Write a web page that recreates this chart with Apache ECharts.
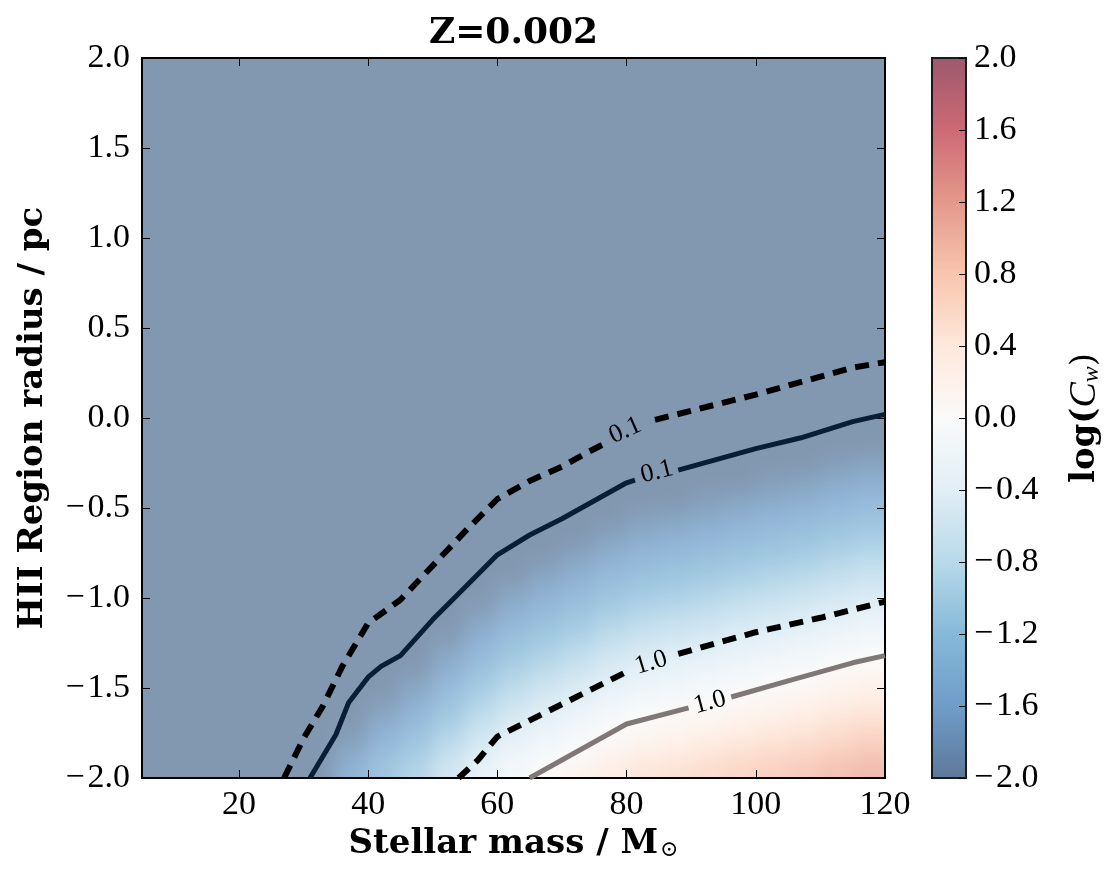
<!DOCTYPE html>
<html>
<head>
<meta charset="utf-8">
<title>Z=0.002</title>
<script src="https://cdn.jsdelivr.net/npm/echarts@6/dist/echarts.min.js"></script>
<style>
  html, body { margin: 0; padding: 0; background: #fff; }
  #heat, #main { position: absolute; left: 0; top: 0; width: 1111px; height: 883px; }
  /* smooth the cell grid a little, like gouraud shading, and crop it to the axes box */
  #heat { filter: blur(9px); clip-path: inset(58px 226px 105px 142px); }
</style>
</head>
<body>
<div id="heat"></div>
<div id="main"></div>
<script>
// ---- data ----
var massEdges = [5, 10, 15, 20, 25, 30, 35, 40, 45, 50, 55, 60, 65, 70, 75, 80, 85, 90, 95, 100, 105, 110, 115, 120];
var radiusEdges = [-2.0, -1.9, -1.8, -1.7, -1.6, -1.5, -1.4, -1.3, -1.2, -1.1, -1.0, -0.9, -0.8, -0.7, -0.6, -0.5, -0.4, -0.3, -0.2, 2.0];
// log(Cw), one row per radius band (bottom first), one value per mass band
var logCw = [
  [-2, -2, -2, -2, -2, -2, -1.59, -1.27, -1.01, -0.69, -0.39, -0.14, 0.03, 0.19, 0.36, 0.49, 0.56, 0.64, 0.73, 0.81, 0.88, 0.98, 1.06],
  [-2, -2, -2, -2, -2, -2, -1.76, -1.44, -1.18, -0.86, -0.56, -0.31, -0.14, 0.02, 0.19, 0.32, 0.39, 0.47, 0.56, 0.64, 0.71, 0.81, 0.89],
  [-2, -2, -2, -2, -2, -2, -1.93, -1.61, -1.35, -1.03, -0.73, -0.48, -0.31, -0.15, 0.02, 0.15, 0.22, 0.30, 0.39, 0.47, 0.54, 0.64, 0.72],
  [-2, -2, -2, -2, -2, -2, -2, -1.78, -1.52, -1.20, -0.90, -0.65, -0.48, -0.32, -0.15, -0.02, 0.05, 0.13, 0.22, 0.30, 0.37, 0.47, 0.55],
  [-2, -2, -2, -2, -2, -2, -2, -1.95, -1.69, -1.37, -1.07, -0.82, -0.65, -0.49, -0.32, -0.19, -0.12, -0.04, 0.05, 0.13, 0.20, 0.30, 0.38],
  [-2, -2, -2, -2, -2, -2, -2, -2, -1.86, -1.54, -1.24, -0.99, -0.82, -0.66, -0.49, -0.36, -0.29, -0.21, -0.12, -0.04, 0.03, 0.13, 0.21],
  [-2, -2, -2, -2, -2, -2, -2, -2, -2, -1.71, -1.41, -1.16, -0.99, -0.83, -0.66, -0.53, -0.46, -0.38, -0.29, -0.21, -0.14, -0.04, 0.04],
  [-2, -2, -2, -2, -2, -2, -2, -2, -2, -1.88, -1.58, -1.33, -1.16, -1.00, -0.83, -0.70, -0.63, -0.55, -0.46, -0.38, -0.31, -0.21, -0.13],
  [-2, -2, -2, -2, -2, -2, -2, -2, -2, -2, -1.75, -1.50, -1.33, -1.17, -1.00, -0.87, -0.80, -0.72, -0.63, -0.55, -0.48, -0.38, -0.30],
  [-2, -2, -2, -2, -2, -2, -2, -2, -2, -2, -1.92, -1.67, -1.50, -1.34, -1.17, -1.04, -0.97, -0.89, -0.80, -0.72, -0.65, -0.55, -0.47],
  [-2, -2, -2, -2, -2, -2, -2, -2, -2, -2, -2, -1.84, -1.67, -1.51, -1.34, -1.21, -1.14, -1.06, -0.97, -0.89, -0.82, -0.72, -0.64],
  [-2, -2, -2, -2, -2, -2, -2, -2, -2, -2, -2, -2, -1.84, -1.68, -1.51, -1.38, -1.31, -1.23, -1.14, -1.06, -0.99, -0.89, -0.81],
  [-2, -2, -2, -2, -2, -2, -2, -2, -2, -2, -2, -2, -2, -1.85, -1.68, -1.55, -1.48, -1.40, -1.31, -1.23, -1.16, -1.06, -0.98],
  [-2, -2, -2, -2, -2, -2, -2, -2, -2, -2, -2, -2, -2, -2, -1.85, -1.72, -1.65, -1.57, -1.48, -1.40, -1.33, -1.23, -1.15],
  [-2, -2, -2, -2, -2, -2, -2, -2, -2, -2, -2, -2, -2, -2, -2, -1.89, -1.82, -1.74, -1.65, -1.57, -1.50, -1.40, -1.32],
  [-2, -2, -2, -2, -2, -2, -2, -2, -2, -2, -2, -2, -2, -2, -2, -2, -2, -1.91, -1.82, -1.74, -1.67, -1.57, -1.49],
  [-2, -2, -2, -2, -2, -2, -2, -2, -2, -2, -2, -2, -2, -2, -2, -2, -2, -2, -2, -1.91, -1.84, -1.74, -1.66],
  [-2, -2, -2, -2, -2, -2, -2, -2, -2, -2, -2, -2, -2, -2, -2, -2, -2, -2, -2, -2, -2, -1.91, -1.83],
  [-2, -2, -2, -2, -2, -2, -2, -2, -2, -2, -2, -2, -2, -2, -2, -2, -2, -2, -2, -2, -2, -2, -2]
];

// contour paths [mass, radius]; each is split where its inline label sits
var dashed01A = [[27, -2], [30, -1.78], [33, -1.6], [36, -1.38], [40, -1.14], [45, -1.01], [50, -0.82], [55, -0.63], [60, -0.45], [65, -0.35], [70, -0.27], [74, -0.19], [76.2, -0.15]];
var dashed01B = [[84.4, -0.01], [90, 0.04], [100, 0.13], [110, 0.23], [115, 0.28], [120, 0.31]];
var solid01A = [[31, -2], [35, -1.76], [37, -1.58], [40, -1.44], [42, -1.38], [45, -1.32], [50, -1.12], [55, -0.94], [60, -0.76], [65, -0.65], [70, -0.56], [75, -0.46], [80, -0.36], [81.3, -0.345]];
var solid01B = [[88, -0.29], [100, -0.17], [107, -0.11], [115, -0.02], [120, 0.02]];
var dashed10A = [[54, -2], [57, -1.9], [60, -1.77], [70, -1.59], [80, -1.41]];
var dashed10B = [[88, -1.31], [100, -1.19], [110, -1.11], [120, -1.02]];
var solid10A = [[65, -2], [80, -1.7], [89.6, -1.61]];
var solid10B = [[96.2, -1.55], [105, -1.46], [115, -1.36], [120, -1.32]];
var contourLabels = [['0.1', 79.8, -0.07], ['0.1', 84.7, -0.30], ['1.0', 83.8, -1.36], ['1.0', 92.9, -1.58]];

var massTicks = [20, 40, 60, 80, 100, 120];
var cbarMin = -2, cbarMax = 2;

// RdBu_r, low to high
var rdbu = ['#053061', '#2166ac', '#4393c3', '#92c5de', '#d1e5f0', '#f7f7f7', '#fddbc7', '#f4a582', '#d6604d', '#b2182b', '#67001f'];

// ---- helpers ----
function blend(hex, a) {
  var n = parseInt(hex.slice(1), 16);
  var c = [(n >> 16) & 255, (n >> 8) & 255, n & 255].map(function (v) { return Math.round(v * a + 255 * (1 - a)); });
  return 'rgb(' + c.join(',') + ')';
}
function fmt(v) {
  if (Math.abs(v) < 1e-9) v = 0;
  return v.toFixed(1).replace('-', '\u2212\u200a');
}

var heatColors = rdbu.map(function (c) { return blend(c, 0.5); });
var cbarStops = rdbu.slice().reverse().map(function (c, i, arr) {
  return { offset: i / (arr.length - 1), color: blend(c, 0.65) };
});

var cells = [];
for (var r = 0; r < logCw.length; r++) {
  for (var c = 0; c < logCw[r].length; c++) {
    cells.push([massEdges[c], massEdges[c + 1], radiusEdges[r], radiusEdges[r + 1], logCw[r][c]]);
  }
}

var xMin = massEdges[0], xMax = massEdges[massEdges.length - 1];
var yMin = radiusEdges[0], yMax = radiusEdges[radiusEdges.length - 1];
var gridMain = { left: 142, top: 58, width: 743, height: 720 };

// ---- colour field (blurred layer underneath) ----
var heat = echarts.init(document.getElementById('heat'));
heat.setOption({
  animation: false,
  backgroundColor: heatColors[0],
  grid: Object.assign({ outerBoundsMode: 'none' }, gridMain),
  xAxis: { type: 'value', min: xMin, max: xMax, show: false },
  yAxis: { type: 'value', min: yMin, max: yMax, show: false },
  visualMap: {
    type: 'continuous', show: false, min: cbarMin, max: cbarMax, dimension: 4, seriesIndex: 0,
    inRange: { color: heatColors }
  },
  series: [{
    type: 'custom',
    clip: false,
    silent: true,
    encode: { x: [0, 1], y: [2, 3] },
    data: cells,
    renderItem: function (params, api) {
      var x0 = api.value(0), x1 = api.value(1), y0 = api.value(2), y1 = api.value(3);
      var p0 = api.coord([x0, y1]);
      var p1 = api.coord([x1, y0]);
      // edge cells bleed out so the blur does not fade at the frame
      var l = p0[0] - (x0 <= xMin ? 40 : 0.5);
      var rr = p1[0] + (x1 >= xMax ? 40 : 0.5);
      var t = p0[1] - (y1 >= yMax ? 40 : 0.5);
      var b = p1[1] + (y0 <= yMin ? 40 : 0.5);
      return {
        type: 'rect',
        shape: { x: l, y: t, width: rr - l, height: b - t },
        style: { fill: api.visual('color') }
      };
    }
  }]
});

// ---- axes, contours, colour bar ----
var tickFont = { fontFamily: 'Liberation Serif', fontSize: 34, color: '#000' };
var nameFont = { fontFamily: 'DejaVu Serif', fontWeight: 'bold', fontSize: 34, color: '#000' };
var tickLine = { color: '#000', width: 1 };
var noLine = { show: false, onZero: false };

function line(points, color, dashed, width) {
  return {
    type: 'line', xAxisIndex: 0, yAxisIndex: 0, data: points, showSymbol: false, silent: true,
    lineStyle: { color: color, width: width, type: dashed ? [14, 9] : 'solid', cap: 'butt' },
    z: 3
  };
}

var chart = echarts.init(document.getElementById('main'));
chart.setOption({
  animation: false,
  grid: [
    Object.assign({ outerBoundsMode: 'none', show: true, borderColor: '#000', borderWidth: 2, backgroundColor: 'transparent' }, gridMain),
    {
      outerBoundsMode: 'none', left: 932, top: 58, width: 34, height: 720, show: true,
      borderColor: '#1a1a1a', borderWidth: 2,
      backgroundColor: { type: 'linear', x: 0, y: 0, x2: 0, y2: 1, colorStops: cbarStops }
    }
  ],
  xAxis: [
    {
      gridIndex: 0, type: 'value', min: xMin, max: xMax, position: 'bottom',
      axisLine: noLine, splitLine: { show: false },
      axisTick: { inside: true, length: 8, lineStyle: tickLine, customValues: massTicks },
      axisLabel: Object.assign({ margin: 10, customValues: massTicks }, tickFont),
      name: '{n|Stellar mass / M}{s|\u2299}',
      nameLocation: 'middle', nameGap: 37,
      nameTextStyle: {
        rich: {
          n: nameFont,
          s: { fontFamily: 'DejaVu Serif', fontSize: 22, color: '#000', verticalAlign: 'bottom', padding: [0, 0, 0, 2] }
        }
      }
    },
    {
      gridIndex: 0, type: 'value', min: xMin, max: xMax, position: 'top',
      axisLine: noLine, splitLine: { show: false },
      axisTick: { inside: true, length: 8, lineStyle: tickLine, customValues: massTicks },
      axisLabel: { show: false },
      name: 'Z=0.002', nameLocation: 'middle', nameGap: 6,
      nameTextStyle: { fontFamily: 'DejaVu Serif', fontWeight: 'bold', fontSize: 36, color: '#000' }
    },
    { gridIndex: 1, type: 'value', min: 0, max: 1, show: false }
  ],
  yAxis: [
    {
      gridIndex: 0, type: 'value', min: yMin, max: yMax, interval: 0.5, position: 'left',
      axisLine: noLine, splitLine: { show: false },
      axisTick: { inside: true, length: 8, lineStyle: tickLine },
      axisLabel: Object.assign({ margin: 12, formatter: fmt }, tickFont),
      name: 'HII Region radius / pc', nameLocation: 'middle', nameGap: 92, nameRotate: 90,
      nameTextStyle: nameFont
    },
    {
      gridIndex: 0, type: 'value', min: yMin, max: yMax, interval: 0.5, position: 'right',
      axisLine: noLine, splitLine: { show: false },
      axisTick: { inside: true, length: 8, lineStyle: tickLine },
      axisLabel: { show: false }
    },
    {
      gridIndex: 1, type: 'value', min: cbarMin, max: cbarMax, interval: 0.4, position: 'right',
      axisLine: noLine, splitLine: { show: false },
      axisTick: { inside: true, length: 7, lineStyle: tickLine },
      axisLabel: Object.assign({ margin: 8, formatter: fmt }, tickFont),
      name: '{n|log(}{i|C}{s|w}{p|)}', nameLocation: 'middle', nameGap: 100, nameRotate: 90,
      nameTextStyle: {
        rich: {
          n: nameFont,
          i: { fontFamily: 'Liberation Serif', fontStyle: 'italic', fontSize: 38, color: '#000' },
          s: { fontFamily: 'Liberation Serif', fontStyle: 'italic', fontSize: 24, color: '#000', verticalAlign: 'bottom' },
          p: { fontFamily: 'DejaVu Serif', fontSize: 34, color: '#000' }
        }
      }
    }
  ],
  series: [
    line(dashed01A, '#000', true, 6),
    line(dashed01B, '#000', true, 6),
    line(solid01A, '#0a1d36', false, 5),
    line(solid01B, '#0a1d36', false, 5),
    line(dashed10A, '#000', true, 6),
    line(dashed10B, '#000', true, 6),
    line(solid10A, '#7f7876', false, 5),
    line(solid10B, '#7f7876', false, 5),
    {
      type: 'scatter', xAxisIndex: 0, yAxisIndex: 0, silent: true, symbolSize: 1,
      itemStyle: { opacity: 0 },
      label: { show: true, position: 'inside', fontFamily: 'Liberation Serif', fontSize: 26, color: '#000', opacity: 1 },
      data: contourLabels.map(function (d, i) {
        var rot = [24, 14, 17, 15][i];
        return { value: [d[1], d[2]], label: { formatter: d[0], rotate: rot } };
      }),
      z: 4
    }
  ]
});
</script>
</body>
</html>
